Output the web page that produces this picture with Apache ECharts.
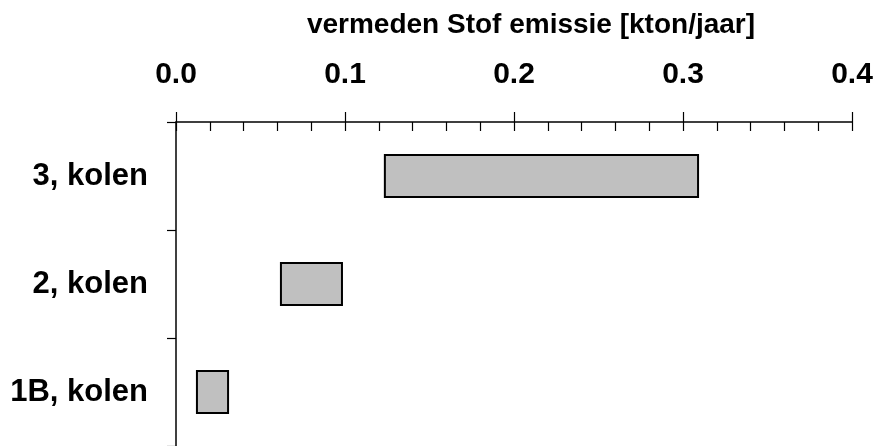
<!DOCTYPE html>
<html><head><meta charset="utf-8">
<script src="https://cdn.jsdelivr.net/npm/echarts@6/dist/echarts.min.js"></script>
<style>html,body{margin:0;padding:0;background:#fff}#c{width:876px;height:446px}</style>
</head><body><div id="c"></div>
<script>
const categories = ['3, kolen', '2, kolen', '1B, kolen'];
const rangeStart = [0.123, 0.0615, 0.0118];
const rangeEnd = [0.3095, 0.0988, 0.0314];
const xTicks = [0, 0.1, 0.2, 0.3, 0.4];

const span = rangeEnd.map((v, i) => +(v - rangeStart[i]).toFixed(4));
const font = 'Liberation Sans, Arial, sans-serif';
const chart = echarts.init(document.getElementById('c'));
chart.setOption({
  animation: false,
  title: {
    text: 'vermeden Stof emissie [kton/jaar]',
    left: 526, top: 6, textAlign: 'center',
    textStyle: {fontFamily: font, fontWeight: 'bold', fontSize: 28, color: '#000'}
  },
  grid: {left: 176, right: 24, top: 122, bottom: 0},
  xAxis: [{
    type: 'value', position: 'top', min: xTicks[0], max: xTicks[xTicks.length - 1], interval: 0.1,
    axisLine: {show: true, lineStyle: {color: '#000', width: 1.5}},
    axisTick: {show: true, inside: true, length: 9, lineStyle: {color: '#000', width: 1.2}},
    minorTick: {show: true, splitNumber: 5, length: 9, lineStyle: {color: '#000', width: 1.2}},
    axisLabel: {fontFamily: font, fontWeight: 'bold', fontSize: 30, color: '#000', margin: 32,
      formatter: v => v.toFixed(1)},
    splitLine: {show: false}
  }, {
    type: 'value', position: 'top', min: xTicks[0], max: xTicks[xTicks.length - 1], interval: 0.1,
    axisLine: {show: false},
    axisTick: {show: true, inside: false, length: 10, lineStyle: {color: '#000', width: 1.2}},
    axisLabel: {show: false}, splitLine: {show: false}
  }],
  yAxis: {
    type: 'category', data: categories, inverse: true,
    axisLine: {show: true, lineStyle: {color: '#000', width: 1.5}},
    axisTick: {show: true, length: 9, lineStyle: {color: '#000', width: 1.2}},
    axisLabel: {fontFamily: font, fontWeight: 'bold', fontSize: 31, color: '#000', margin: 28}
  },
  series: [{
    type: 'bar', stack: 'r', data: rangeStart, barWidth: 44,
    itemStyle: {color: 'transparent'}, silent: true
  }, {
    type: 'bar', stack: 'r', data: span, barWidth: 44,
    itemStyle: {color: '#c0c0c0', borderColor: '#000', borderWidth: 2}
  }]
});
</script></body></html>
